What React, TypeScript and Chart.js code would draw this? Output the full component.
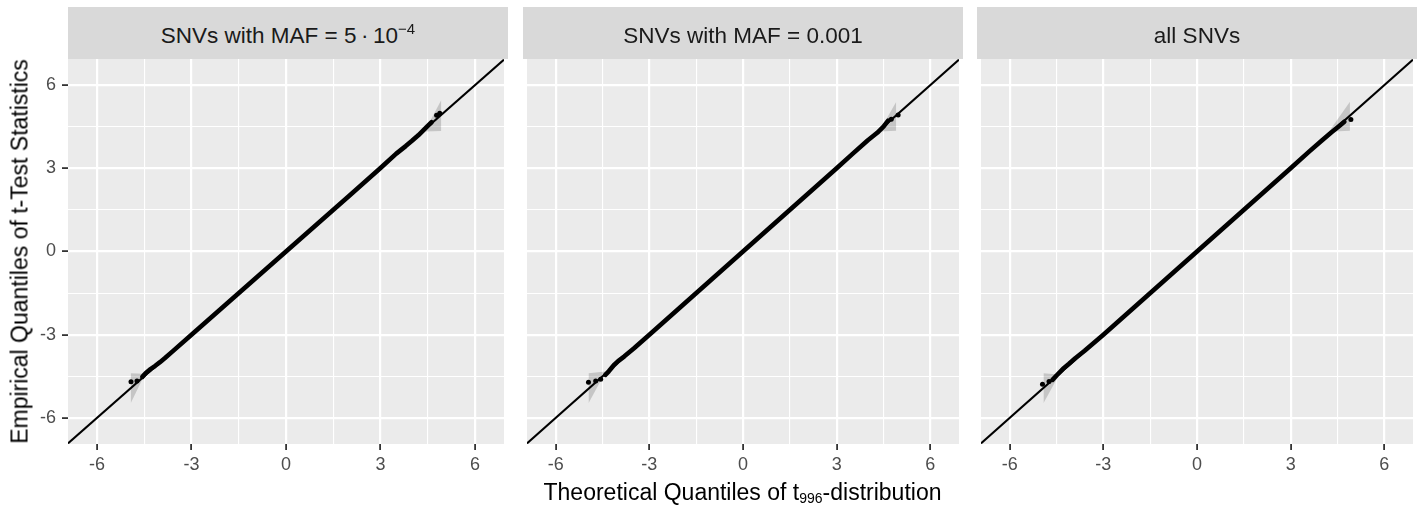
import React, { useEffect, useRef } from "react";
import { Chart, registerables } from "chart.js";

Chart.register(...registerables);

// ---------- axis / tick data ----------
const majorTicks = [-6, -3, 0, 3, 6];
const gridValues = [-6, -4.5, -3, -1.5, 0, 1.5, 3, 4.5, 6];
const xRange = [-6.92, 6.92];
const yRange = [-6.94, 6.94];
const refSlope = 1;
const refIntercept = 0;

const panelTitles = ["SNVs with MAF = 5·10^-4", "SNVs with MAF = 0.001", "all SNVs"];
const xAxisTitle = "Theoretical Quantiles of t_996-distribution";
const yAxisTitle = "Empirical Quantiles of t-Test Statistics";

// ---------- panel 1: MAF = 5e-4 ----------
const p1BodyTheo = [-4.56, -4.45, -4.3, -4.15, -4.0, -3.85, -3.6, -3.0, -2.0, -1.0, 0, 1.0, 2.0, 3.0, 3.5, 3.8, 4.0, 4.2, 4.35, 4.5, 4.62];
const p1BodyEmp = [-4.52, -4.38, -4.24, -4.12, -3.99, -3.85, -3.6, -3.0, -2.0, -1.0, 0, 1.0, 2.0, 3.01, 3.53, 3.8, 3.99, 4.19, 4.36, 4.53, 4.66];
const p1TailTheo = [-4.92, -4.73, 4.78, 4.88];
const p1TailEmp = [-4.7, -4.67, 4.91, 4.98];
const p1UpBandTheo = [4.41, 4.93];
const p1UpBandLo = [4.33, 4.34];
const p1UpBandHi = [4.35, 5.46];
const p1LowBandTheo = [-4.93, -4.51];
const p1LowBandLo = [-5.47, -4.49];
const p1LowBandHi = [-4.39, -4.41];

// ---------- panel 2: MAF = 0.001 ----------
const p2BodyTheo = [-4.41, -4.3, -4.14, -4.0, -3.8, -3.5, -3.0, -2.0, -1.0, 0, 1.0, 2.0, 3.0, 3.5, 4.0, 4.3, 4.5, 4.65];
const p2BodyEmp = [-4.45, -4.32, -4.1, -3.95, -3.78, -3.5, -3.0, -2.0, -1.0, 0, 1.0, 2.0, 3.0, 3.51, 4.01, 4.28, 4.5, 4.72];
const p2TailTheo = [-4.95, -4.72, -4.56, 4.75, 4.97];
const p2TailEmp = [-4.71, -4.67, -4.61, 4.77, 4.92];
const p2UpBandTheo = [4.39, 4.91];
const p2UpBandLo = [4.33, 4.35];
const p2UpBandHi = [4.37, 5.4];
const p2LowBandTheo = [-4.95, -4.41];
const p2LowBandLo = [-5.47, -4.35];
const p2LowBandHi = [-4.39, -4.33];

// ---------- panel 3: all SNVs ----------
const p3BodyTheo = [-4.63, -4.5, -4.3, -4.1, -3.9, -3.6, -3.0, -2.0, -1.0, 0, 1.0, 2.0, 3.0, 3.6, 4.0, 4.3, 4.5, 4.72];
const p3BodyEmp = [-4.63, -4.47, -4.24, -4.05, -3.85, -3.58, -3.0, -2.0, -1.0, 0, 1.0, 2.0, 3.0, 3.61, 4.0, 4.29, 4.47, 4.68];
const p3TailTheo = [-4.95, -4.74, 4.93];
const p3TailEmp = [-4.79, -4.69, 4.76];
const p3UpBandTheo = [4.24, 4.9];
const p3UpBandLo = [4.32, 4.35];
const p3UpBandHi = [4.34, 5.4];
const p3LowBandTheo = [-4.92, -4.43];
const p3LowBandLo = [-5.47, -4.47];
const p3LowBandHi = [-4.39, -4.43];

const FONT = "'Liberation Sans', Arial, Helvetica, sans-serif";
const BAND = "rgba(0,0,0,0.16)";
const PANEL_LEFTS = [68, 523, 977];
const PANEL_W = 440;
const PANEL_TOP = 59;
const PANEL_H = 385;
const PAD_TOP = 20;
const X_AXIS_H = 40;
const Y_AXIS_W = 40;

type Spec = {
  bodyX: number[]; bodyY: number[];
  tailX: number[]; tailY: number[];
  upX: number[]; upLo: number[]; upHi: number[];
  lowX: number[]; lowLo: number[]; lowHi: number[];
};

const specs: Spec[] = [
  { bodyX: p1BodyTheo, bodyY: p1BodyEmp, tailX: p1TailTheo, tailY: p1TailEmp, upX: p1UpBandTheo, upLo: p1UpBandLo, upHi: p1UpBandHi, lowX: p1LowBandTheo, lowLo: p1LowBandLo, lowHi: p1LowBandHi },
  { bodyX: p2BodyTheo, bodyY: p2BodyEmp, tailX: p2TailTheo, tailY: p2TailEmp, upX: p2UpBandTheo, upLo: p2UpBandLo, upHi: p2UpBandHi, lowX: p2LowBandTheo, lowLo: p2LowBandLo, lowHi: p2LowBandHi },
  { bodyX: p3BodyTheo, bodyY: p3BodyEmp, tailX: p3TailTheo, tailY: p3TailEmp, upX: p3UpBandTheo, upLo: p3UpBandLo, upHi: p3UpBandHi, lowX: p3LowBandTheo, lowLo: p3LowBandLo, lowHi: p3LowBandHi },
];

const zip = (xs: number[], ys: number[]) => xs.map((x, i) => ({ x, y: ys[i] }));
const isMajor = (v: number) => majorTicks.includes(v);

const bgPlugin = {
  id: "panelBg",
  beforeDraw(chart: any) {
    const { ctx, chartArea: a } = chart;
    ctx.save();
    ctx.fillStyle = "#EBEBEB";
    ctx.fillRect(a.left, a.top, a.right - a.left, a.bottom - a.top);
    ctx.restore();
  },
};

function Panel({ spec, showY, left }: { spec: Spec; showY: boolean; left: number }) {
  const ref = useRef<HTMLCanvasElement>(null);
  const yW = showY ? Y_AXIS_W : 0;
  const width = PANEL_W + yW;
  const height = PAD_TOP + PANEL_H + X_AXIS_H;

  useEffect(() => {
    if (!ref.current) return;
    const refLine = [xRange[0], xRange[1]].map((x) => ({ x, y: refSlope * x + refIntercept }));
    const axisCommon = (isX: boolean, show: boolean) => ({
      type: "linear" as const,
      min: isX ? xRange[0] : yRange[0],
      max: isX ? xRange[1] : yRange[1],
      afterBuildTicks: (s: any) => {
        s.ticks = gridValues.map((v) => ({ value: v }));
      },
      afterFit: (s: any) => {
        if (isX) s.height = X_AXIS_H;
        else s.width = yW;
      },
      border: { display: false },
      grid: {
        color: "#FFFFFF",
        lineWidth: (c: any) => (c.tick && isMajor(c.tick.value) ? 2.2 : 1.1),
        drawTicks: show,
        tickLength: 6,
        tickWidth: 1.8,
        tickColor: (c: any) => (c.tick && isMajor(c.tick.value) ? "#333333" : "rgba(0,0,0,0)"),
      },
      ticks: {
        display: show,
        autoSkip: false,
        maxRotation: 0,
        minRotation: 0,
        padding: isX ? 4 : 6,
        color: "#4D4D4D",
        font: { family: FONT, size: 18 },
        callback: (v: any) => (isMajor(Number(v)) ? String(v) : ""),
      },
    });

    const chart = new Chart(ref.current, {
      type: "line",
      data: {
        datasets: [
          { data: zip(spec.upX, spec.upLo), borderWidth: 0, pointRadius: 0, fill: false, backgroundColor: BAND, order: 6 },
          { data: zip(spec.upX, spec.upHi), borderWidth: 0, pointRadius: 0, fill: "-1", backgroundColor: BAND, order: 5 },
          { data: zip(spec.lowX, spec.lowLo), borderWidth: 0, pointRadius: 0, fill: false, backgroundColor: BAND, order: 4 },
          { data: zip(spec.lowX, spec.lowHi), borderWidth: 0, pointRadius: 0, fill: "-1", backgroundColor: BAND, order: 3 },
          { data: refLine, borderColor: "#000000", borderWidth: 2, pointRadius: 0, fill: false, order: 2 },
          {
            data: zip(spec.bodyX, spec.bodyY), borderColor: "#000000", borderWidth: 4.6, pointRadius: 0, fill: false,
            borderJoinStyle: "round", borderCapStyle: "round", tension: 0, order: 1,
          },
          {
            data: zip(spec.tailX, spec.tailY), showLine: false, pointRadius: 2.5, pointBackgroundColor: "#000000",
            pointBorderWidth: 0, borderColor: "#000000", fill: false, order: 0,
          },
        ] as any,
      },
      options: {
        animation: false,
        responsive: false,
        devicePixelRatio: 1,
        events: [],
        layout: { padding: { top: PAD_TOP, left: 0, right: 0, bottom: 0 } },
        plugins: { legend: { display: false }, tooltip: { enabled: false }, title: { display: false } },
        scales: {
          x: axisCommon(true, true) as any,
          y: axisCommon(false, showY) as any,
        },
      },
      plugins: [bgPlugin],
    });
    return () => chart.destroy();
  }, []);

  return (
    <canvas
      ref={ref}
      width={width}
      height={height}
      style={{ position: "absolute", left: left - yW, top: PANEL_TOP - PAD_TOP, width, height }}
    />
  );
}

function StripTitle({ text }: { text: string }) {
  const m = text.match(/^(.*)= 5·10\^(-?\d+)$/);
  if (m) {
    return (
      <span>
        {m[1]}= 5{"\u2009·\u2009"}10
        <span style={{ fontSize: 15, position: "relative", top: -9 }}>{m[2].replace("-", "\u2212")}</span>
      </span>
    );
  }
  return <span>{text}</span>;
}

export default function App() {
  const [pre, rest] = xAxisTitle.split("_");
  const sub = rest.slice(0, 3);
  const post = rest.slice(3);
  return (
    <div style={{ position: "absolute", left: 0, top: 0, width: 1421, height: 508, background: "#FFFFFF", overflow: "hidden", fontFamily: FONT }}>
      {specs.map((s, i) => (
        <Panel key={i} spec={s} showY={i === 0} left={PANEL_LEFTS[i]} />
      ))}
      {panelTitles.map((t, i) => (
        <div
          key={"s" + i}
          style={{
            position: "absolute", left: PANEL_LEFTS[i], top: 7, width: PANEL_W, height: 52,
            background: "#D9D9D9", color: "#1A1A1A", fontSize: 22.5, lineHeight: "52px",
            textAlign: "center", boxSizing: "border-box", paddingTop: 3, whiteSpace: "nowrap",
          }}
        >
          <StripTitle text={t} />
        </div>
      ))}
      <div
        style={{
          position: "absolute", left: 68, width: 1349, top: 480.5, fontSize: 23, lineHeight: "23px",
          textAlign: "center", color: "#000000", whiteSpace: "nowrap",
        }}
      >
        {pre}
        <span style={{ fontSize: 14, position: "relative", top: 3.5 }}>{sub}</span>
        {post}
      </div>
      <div
        style={{
          position: "absolute", left: 20 - 250, top: 251.5 - 11.5, width: 500, height: 23, fontSize: 23,
          lineHeight: "23px", textAlign: "center", color: "#000000", whiteSpace: "nowrap",
          transform: "rotate(-90deg)", transformOrigin: "50% 50%",
        }}
      >
        {yAxisTitle}
      </div>
    </div>
  );
}
